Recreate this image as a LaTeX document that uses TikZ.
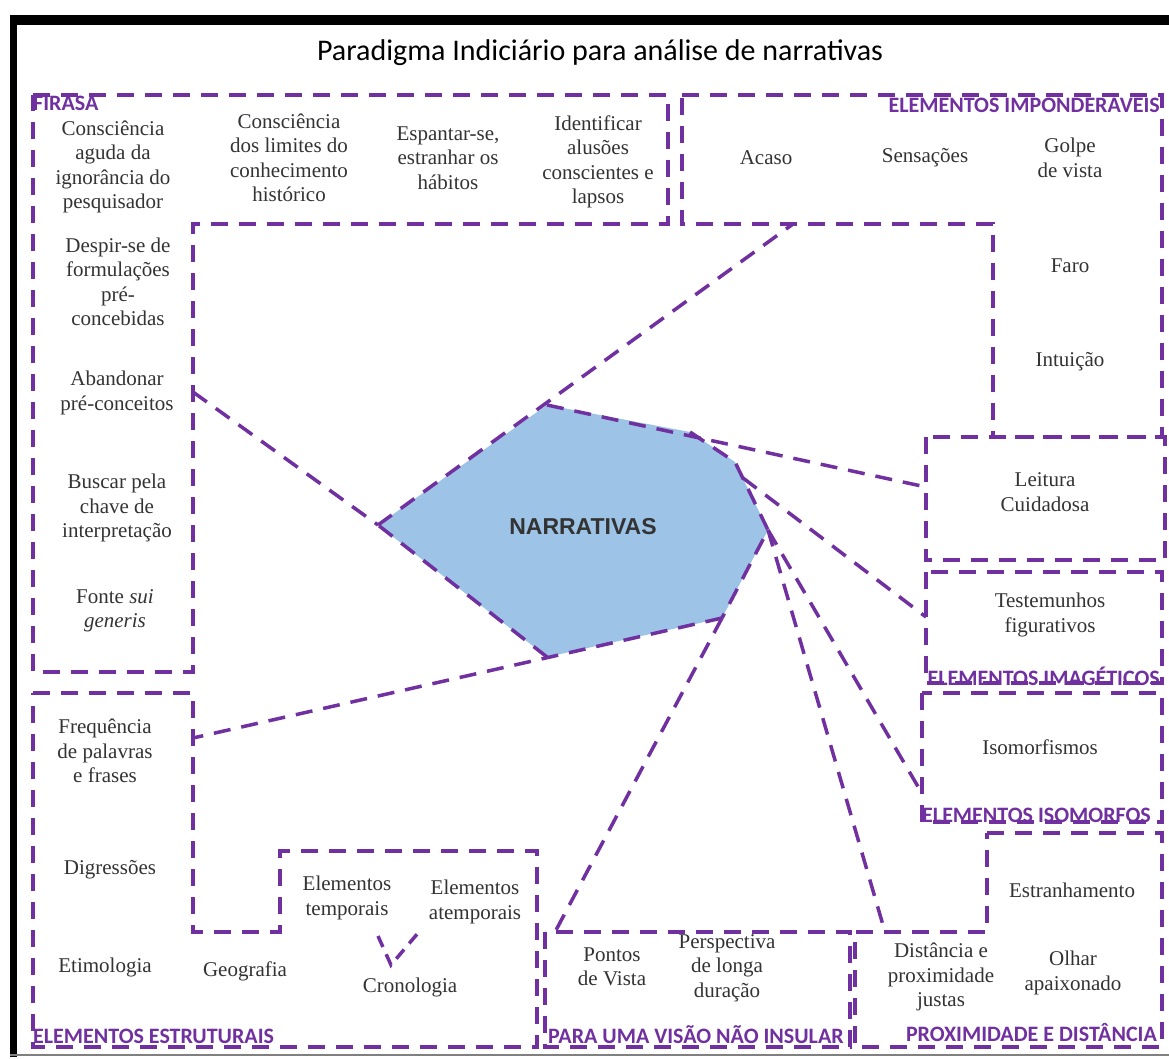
\documentclass[tikz,border=0pt]{standalone}
\usepackage{fontspec}
\setmainfont{Liberation Serif}
\newfontfamily\calibri{Carlito}
\newfontfamily\arialf{Liberation Sans}
\definecolor{roxo}{HTML}{7030A0}
\definecolor{azul}{HTML}{9DC3E6}
\definecolor{texto}{HTML}{333333}
\tikzset{
  regiao/.style={draw=roxo, line width=3.5pt, dash pattern=on 17pt off 11pt},
  ligacao/.style={draw=roxo, line width=3.5pt, dash pattern=on 17pt off 11pt},
  item/.style={align=center, text=texto, inner sep=0pt, font=\fontsize{21}{24.5}\selectfont},
  rotulo/.style={text=roxo, inner sep=0pt, font=\calibri\bfseries\fontsize{22}{22}\selectfont},
}
\begin{document}
\begin{tikzpicture}[x=1pt,y=-1pt]
\useasboundingbox (0,0) rectangle (1169,1059);
\fill[white] (0,0) rectangle (1169,1059);
\fill[black] (10,15) rectangle (17,1057);
\fill[black] (10,15) rectangle (1169,25);
\draw[gray, line width=2pt] (10,1055) -- (1169,1055);
\node[font=\calibri\fontsize{30}{30}\selectfont] (titulo) at (600,53) {Paradigma Indiciário para análise de narrativas};
% regioes
\draw[regiao] (33,95) -- (668,95) -- (668,224) -- (193,224) -- (193,672) -- (33,672) -- cycle;
\draw[regiao] (682,95) -- (1162,95) -- (1162,437) -- (993,437) -- (993,224) -- (682,224) -- cycle;
\draw[regiao] (926,437) rectangle (1165,560);
\draw[regiao] (926,572) rectangle (1162,683);
\draw[regiao] (922,693) rectangle (1162,822);
\draw[regiao] (987,833) -- (1162,833) -- (1162,1047) -- (855,1047) -- (855,932) -- (987,932) -- cycle;
\draw[regiao] (545,932) rectangle (850,1047);
\draw[regiao] (33,693) -- (193,693) -- (193,932) -- (280,932) -- (280,851) -- (537,851) -- (537,1047) -- (33,1047) -- cycle;
% narrativas
\coordinate (nA) at (378,525);
\coordinate (nB) at (547,405);
\coordinate (nC) at (690,432);
\coordinate (nD) at (735,462);
\coordinate (nE) at (768,530);
\coordinate (nF) at (722,618);
\coordinate (nG) at (547,657);
\coordinate (nH) at (743,478);
\fill[azul] (nA) -- (nB) -- (nC) -- (nD) -- (nE) -- (nF) -- (nG) -- cycle;
\node[font=\arialf\bfseries\fontsize{23}{23}\selectfont, text=texto] (narr) at (583,527) {NARRATIVAS};
\draw[ligacao] (nC) -- (nD) -- (nE) -- (nF);
\draw[ligacao] (nG) -- (nA);
\coordinate (cImp) at (793,224);
\coordinate (cFir) at (193,392);
\coordinate (cLei) at (926,487);
\coordinate (cEst) at (193,738);
\coordinate (cImag) at (926,617);
\coordinate (cIso) at (920,790);
\coordinate (cProx) at (885,932);
\coordinate (cVis) at (555,932);
\draw[ligacao] (nA) -- (cImp);
\draw[ligacao] (cFir) -- (nA);
\draw[ligacao] (nB) -- (cLei);
\draw[ligacao] (nF) -- (cEst);
\draw[ligacao] (nH) -- (cImag);
\draw[ligacao] (nE) -- (cIso);
\draw[ligacao] (nE) -- (cProx);
\draw[ligacao] (nF) -- (cVis);
% textos
\foreach \n/\x/\y/\t in {f1/113/167/{Consciência\\aguda da\\ignorância do\\pesquisador},
    f2/289/158/{Consciência\\dos limites do\\conhecimento\\histórico},
    f3/448/158/{Espantar-se,\\estranhar os\\hábitos},
    f4/598/162/{Identificar\\alusões\\conscientes e\\lapsos},
    f5/118/282/{Despir-se de\\formulações\\pré-\\concebidas},
    f6/117/393/{Abandonar\\pré-conceitos},
    f7/117/508/{Buscar pela\\chave de\\interpretação},
    f8/115/611/{Fonte \textit{sui}\\\textit{generis}}}{
  \node[item] (\n) at (\x,\y) {\t};
}
\foreach \n/\x/\y/\t in {i1/766/158/Acaso, i2/925/158/Sensações, i3/1070/158/{Golpe\\de vista},
    i4/1070/266/Faro, i5/1070/362/Intuição,
    l1/1045/492/{Leitura\\Cuidadosa}, m1/1050/615/{Testemunhos\\figurativos}, s1/1040/747/Isomorfismos}{
  \node[item] (\n) at (\x,\y) {\t};
}
\foreach \n/\x/\y/\t in {e1/105/751/{Frequência\\de palavras\\e frases}, e2/110/870/Digressões,
    e3/105/967/Etimologia, e4/245/971/Geografia, e5/347/898/{Elementos\\temporais},
    e6/475/902/{Elementos\\atemporais}, e7/410/987/Cronologia,
    v1/612/967/{Pontos\\de Vista}, v2/727/968/{Perspectiva\\de longa\\duração},
    p1/1072/890/Estranhamento, p2/941/977/{Distância e\\proximidade\\justas}, p3/1073/973/{Olhar\\apaixonado}}{
  \node[item] (\n) at (\x,\y) {\t};
}
\coordinate (cTemp) at (378,936);
\coordinate (cCron) at (391,965);
\coordinate (cAtemp) at (418,933);
\draw[ligacao, dash pattern=on 12pt off 8pt] (cTemp) -- (cCron) -- (cAtemp);
% rotulos
\node[rotulo, anchor=west] (rFir) at (33,103) {FIRASA};
\node[rotulo, anchor=east] (rImp) at (1160,103) {ELEMENTOS IMPONDERÁVEIS};
\node[rotulo, anchor=east] (rImag) at (1160,676) {ELEMENTOS IMAGÉTICOS};
\node[rotulo, anchor=west] (rIso) at (922,815) {ELEMENTOS ISOMORFOS};
\node[rotulo, anchor=east] (rProx) at (1157,1033) {PROXIMIDADE E DISTÂNCIA};
\node[rotulo, anchor=west] (rVis) at (548,1035) {PARA UMA VISÃO NÃO INSULAR};
\node[rotulo, anchor=west] (rEst) at (33,1036) {ELEMENTOS ESTRUTURAIS};
\end{tikzpicture}
\end{document}
